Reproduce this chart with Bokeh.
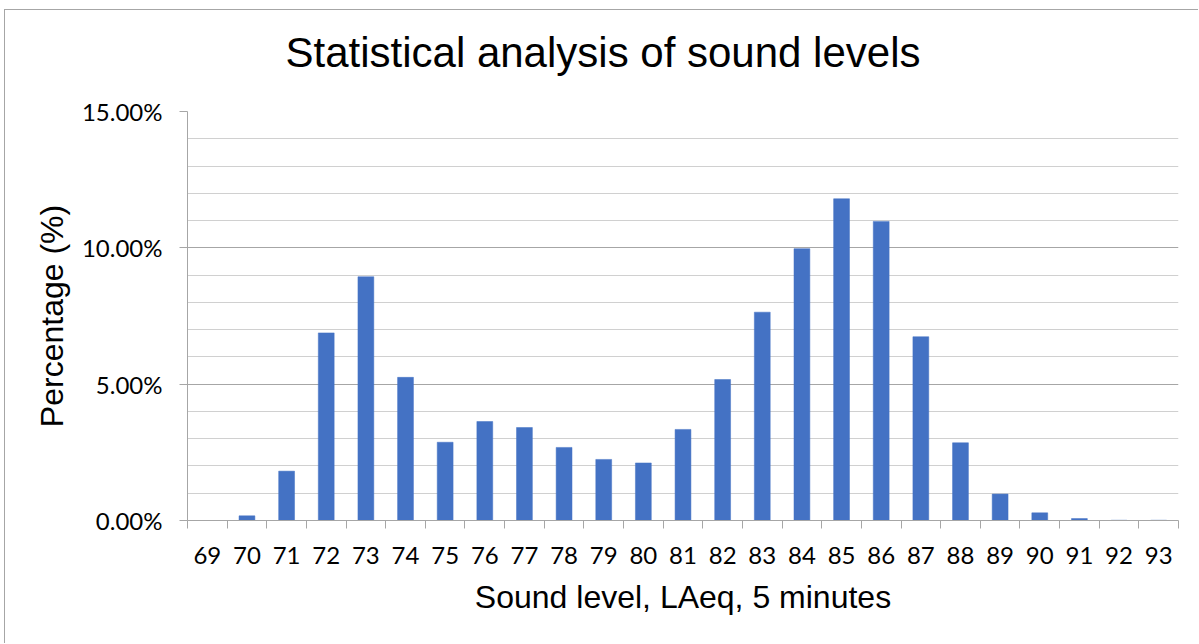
from bokeh.plotting import figure
from bokeh.models import (ColumnDataSource, FixedTicker, PrintfTickFormatter,
                          Range1d, Title)
from bokeh.embed import file_html
from bokeh.resources import INLINE

# ---- data ----
levels = [69, 70, 71, 72, 73, 74, 75, 76, 77, 78, 79, 80, 81,
          82, 83, 84, 85, 86, 87, 88, 89, 90, 91, 92, 93]
percent = [0.00, 0.17, 1.81, 6.88, 8.94, 5.25, 2.87, 3.63, 3.41, 2.68, 2.24, 2.11, 3.34,
           5.17, 7.64, 9.97, 11.80, 10.97, 6.74, 2.85, 0.97, 0.28, 0.07, 0.01, 0.01]
y_major = [0, 5, 10, 15]
y_minor = [1, 2, 3, 4, 6, 7, 8, 9, 11, 12, 13, 14]
title_text = "Statistical analysis of sound levels"
x_label = "Sound level, LAeq, 5 minutes"
y_label = "Percentage (%)"

source = ColumnDataSource(dict(x=levels, y=percent))

p = figure(width=1194, height=634, output_backend="svg", toolbar_location=None,
           x_range=Range1d(levels[0] - 0.5, levels[-1] + 0.5),
           y_range=Range1d(0, 15),
           min_border_left=182, min_border_right=21, min_border_top=101,
           min_border_bottom=124)
p.styles = {"margin-left": "4px", "margin-top": "9px",
            "border-top": "1px solid #a6a6a6", "border-left": "1px solid #a6a6a6"}

p.vbar(x="x", top="y", width=0.4, source=source, fill_color="#4472C4",
       line_color="#4472C4", line_width=0.5)

# spacer between frame and title (nearest the frame), then the real title
p.add_layout(Title(text=" ", text_font_size="1px", standoff=33), "above")
p.add_layout(Title(text=title_text, align="left", offset=98,
                   text_font="Liberation Sans", text_font_size="42px",
                   text_font_style="normal", text_color="#000000", standoff=0), "above")

# x axis: labels at centres, ticks at category boundaries
boundaries = [v - 0.5 for v in levels] + [levels[-1] + 0.5]
xa = p.xaxis[0]
xa.ticker = FixedTicker(ticks=levels, minor_ticks=boundaries)
xa.major_tick_line_color = None
xa.minor_tick_out = 8
xa.minor_tick_in = 0
xa.minor_tick_line_color = "#a6a6a6"
xa.axis_line_color = "#a6a6a6"
xa.major_label_text_font = "Lato"
xa.major_label_text_font_size = "24px"
xa.major_label_text_color = "#000000"
xa.major_label_standoff = 18
xa.axis_label = x_label
xa.axis_label_text_font = "Liberation Sans"
xa.axis_label_text_font_size = "32px"
xa.axis_label_text_font_style = "normal"
xa.axis_label_text_color = "#000000"
xa.axis_label_standoff = 12

ya = p.yaxis[0]
ya.ticker = FixedTicker(ticks=y_major, minor_ticks=y_minor)
ya.formatter = PrintfTickFormatter(format="%.2f%%")
ya.major_tick_out = 8
ya.major_tick_in = 0
ya.major_tick_line_color = "#a6a6a6"
ya.minor_tick_line_color = None
ya.axis_line_color = "#a6a6a6"
ya.major_label_text_font = "Lato"
ya.major_label_text_font_size = "24px"
ya.major_label_text_color = "#000000"
ya.major_label_standoff = 17
ya.axis_label = y_label
ya.axis_label_text_font = "Liberation Sans"
ya.axis_label_text_font_size = "32px"
ya.axis_label_text_font_style = "normal"
ya.axis_label_text_color = "#000000"
ya.axis_label_standoff = 9

p.xgrid.grid_line_color = None
p.ygrid.grid_line_color = "#a6a6a6"
p.ygrid.grid_line_width = 1.2
p.ygrid.minor_grid_line_color = "#d0d0d0"
p.ygrid.minor_grid_line_width = 1.2
p.outline_line_color = None
p.background_fill_color = "white"
p.border_fill_color = "white"

open("out.html", "w").write(file_html(p, INLINE))
